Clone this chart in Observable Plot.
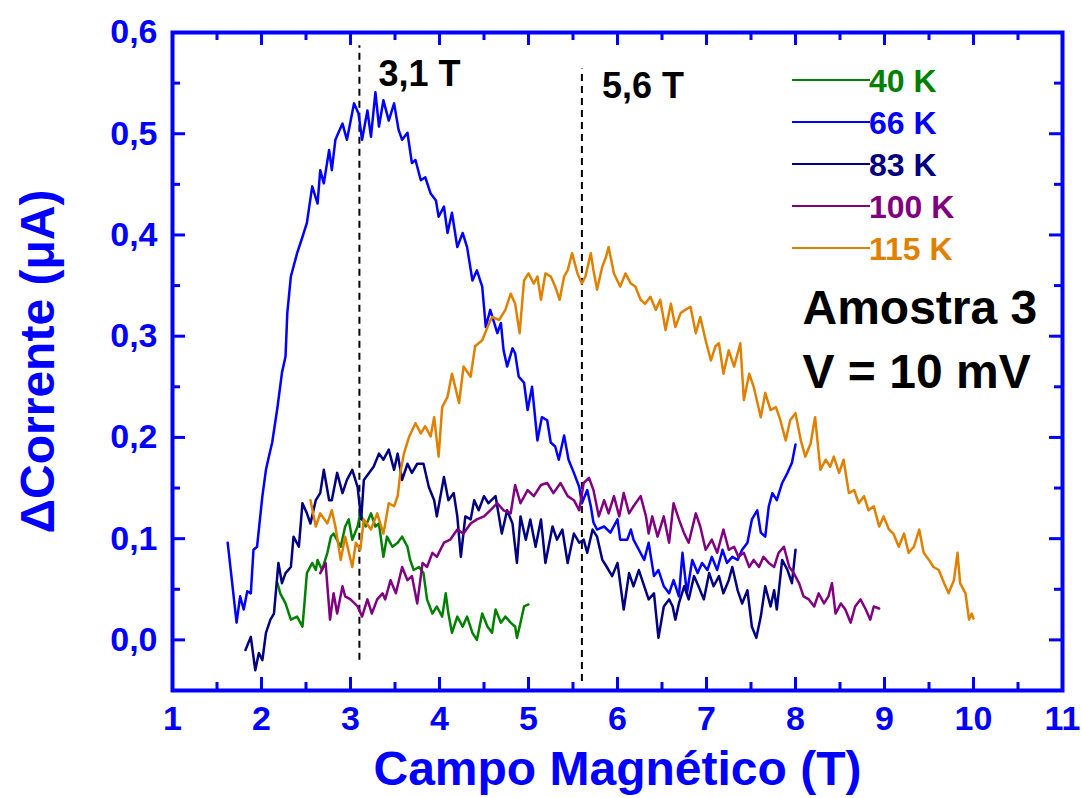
<!DOCTYPE html>
<html><head><meta charset="utf-8">
<script src="https://cdn.jsdelivr.net/npm/d3@7"></script>
<script src="https://cdn.jsdelivr.net/npm/@observablehq/plot@0.6"></script>
<style>body{margin:0;background:#fff}#chart svg{display:block}</style>
</head><body><div id="chart"></div>
<script>
// ---- data (Campo Magnético [T], ΔCorrente [µA]) ----
const s40 = [[2.18,0.056],[2.21,0.046],[2.27,0.036],[2.33,0.020],[2.40,0.023],[2.46,0.013],[2.48,0.033],[2.51,0.066],[2.57,0.076],[2.61,0.069],[2.63,0.079],[2.68,0.069],[2.74,0.086],[2.78,0.102],[2.81,0.105],[2.89,0.092],[2.94,0.112],[2.98,0.119],[3.02,0.099],[3.08,0.112],[3.11,0.125],[3.17,0.112],[3.23,0.125],[3.28,0.112],[3.32,0.115],[3.37,0.082],[3.41,0.102],[3.47,0.092],[3.53,0.096],[3.58,0.102],[3.64,0.092],[3.67,0.079],[3.71,0.069],[3.77,0.072],[3.82,0.066],[3.86,0.040],[3.92,0.026],[3.97,0.033],[4.03,0.023],[4.07,0.046],[4.10,0.026],[4.14,0.007],[4.20,0.023],[4.26,0.013],[4.31,0.023],[4.37,0.007],[4.42,0.000],[4.48,0.026],[4.54,0.013],[4.59,0.007],[4.63,0.030],[4.69,0.017],[4.74,0.023],[4.80,0.017],[4.85,0.013],[4.87,0.002],[4.91,0.017],[4.95,0.033],[5.00,0.035]];
const s66 = [[1.62,0.096],[1.72,0.017],[1.76,0.043],[1.80,0.030],[1.84,0.048],[1.88,0.046],[1.91,0.089],[1.95,0.092],[2.01,0.142],[2.05,0.168],[2.08,0.180],[2.12,0.195],[2.18,0.230],[2.23,0.264],[2.27,0.280],[2.29,0.323],[2.33,0.359],[2.40,0.382],[2.46,0.398],[2.51,0.412],[2.57,0.448],[2.63,0.431],[2.66,0.464],[2.70,0.451],[2.76,0.484],[2.79,0.464],[2.83,0.494],[2.91,0.510],[2.96,0.494],[3.04,0.530],[3.09,0.520],[3.13,0.494],[3.19,0.523],[3.23,0.497],[3.28,0.541],[3.32,0.507],[3.37,0.533],[3.43,0.513],[3.49,0.530],[3.54,0.504],[3.58,0.494],[3.64,0.501],[3.69,0.471],[3.73,0.474],[3.79,0.454],[3.84,0.457],[3.90,0.441],[3.96,0.434],[3.99,0.418],[4.05,0.428],[4.09,0.402],[4.14,0.422],[4.20,0.388],[4.26,0.402],[4.31,0.388],[4.37,0.355],[4.42,0.365],[4.48,0.349],[4.52,0.309],[4.57,0.326],[4.65,0.303],[4.69,0.313],[4.72,0.286],[4.76,0.270],[4.82,0.288],[4.85,0.283],[4.89,0.260],[4.95,0.254],[4.99,0.227],[5.04,0.250],[5.10,0.197],[5.15,0.220],[5.21,0.217],[5.25,0.195],[5.30,0.191],[5.34,0.178],[5.40,0.202],[5.45,0.178],[5.51,0.165],[5.57,0.151],[5.60,0.135],[5.66,0.148],[5.70,0.132],[5.73,0.116],[5.77,0.109],[5.85,0.112],[5.92,0.106],[6.00,0.119],[6.03,0.099],[6.11,0.099],[6.15,0.109],[6.18,0.099],[6.24,0.089],[6.30,0.079],[6.35,0.096],[6.41,0.063],[6.46,0.069],[6.52,0.053],[6.58,0.046],[6.63,0.059],[6.69,0.043],[6.73,0.086],[6.78,0.046],[6.84,0.079],[6.90,0.066],[6.95,0.076],[7.01,0.069],[7.06,0.082],[7.12,0.069],[7.18,0.089],[7.23,0.076],[7.29,0.082],[7.35,0.079],[7.40,0.089],[7.46,0.096],[7.51,0.119],[7.57,0.128],[7.61,0.106],[7.66,0.102],[7.70,0.132],[7.74,0.145],[7.79,0.138],[7.85,0.155],[7.91,0.165],[7.96,0.175],[8.00,0.193]];
const s83 = [[1.82,-0.010],[1.88,0.003],[1.93,-0.030],[1.97,-0.013],[2.01,-0.020],[2.05,0.007],[2.10,0.020],[2.14,0.026],[2.19,0.076],[2.23,0.056],[2.27,0.066],[2.33,0.072],[2.36,0.102],[2.42,0.092],[2.46,0.135],[2.51,0.125],[2.55,0.115],[2.61,0.138],[2.66,0.145],[2.70,0.168],[2.76,0.138],[2.79,0.138],[2.85,0.165],[2.91,0.145],[2.96,0.158],[3.02,0.168],[3.08,0.151],[3.12,0.119],[3.15,0.158],[3.21,0.165],[3.26,0.171],[3.32,0.184],[3.37,0.178],[3.43,0.188],[3.49,0.168],[3.53,0.184],[3.58,0.158],[3.64,0.174],[3.69,0.165],[3.75,0.174],[3.82,0.174],[3.88,0.151],[3.94,0.138],[3.97,0.122],[4.05,0.161],[4.10,0.138],[4.16,0.145],[4.20,0.122],[4.24,0.082],[4.29,0.122],[4.35,0.119],[4.39,0.138],[4.44,0.128],[4.50,0.142],[4.55,0.135],[4.63,0.142],[4.70,0.105],[4.76,0.128],[4.82,0.115],[4.87,0.076],[4.91,0.122],[4.97,0.099],[5.02,0.119],[5.08,0.092],[5.14,0.119],[5.19,0.076],[5.27,0.112],[5.32,0.099],[5.38,0.109],[5.44,0.076],[5.51,0.105],[5.57,0.096],[5.62,0.099],[5.66,0.086],[5.72,0.109],[5.77,0.102],[5.83,0.079],[5.88,0.072],[5.94,0.063],[6.00,0.076],[6.07,0.030],[6.13,0.066],[6.18,0.053],[6.24,0.069],[6.30,0.053],[6.35,0.040],[6.41,0.046],[6.46,0.002],[6.52,0.033],[6.58,0.040],[6.62,0.033],[6.65,0.020],[6.69,0.036],[6.75,0.053],[6.80,0.040],[6.86,0.063],[6.91,0.053],[6.97,0.040],[7.03,0.066],[7.08,0.053],[7.14,0.063],[7.19,0.046],[7.25,0.059],[7.29,0.072],[7.35,0.049],[7.40,0.036],[7.46,0.049],[7.51,0.013],[7.56,0.002],[7.61,0.023],[7.66,0.053],[7.72,0.033],[7.76,0.049],[7.79,0.030],[7.85,0.079],[7.91,0.069],[7.96,0.056],[8.00,0.089]];
const s100 = [[2.66,0.066],[2.72,0.076],[2.77,0.020],[2.81,0.046],[2.85,0.026],[2.91,0.053],[2.94,0.043],[3.00,0.040],[3.08,0.033],[3.13,0.023],[3.19,0.040],[3.24,0.026],[3.30,0.040],[3.36,0.046],[3.39,0.040],[3.45,0.059],[3.51,0.046],[3.58,0.072],[3.64,0.059],[3.69,0.063],[3.75,0.036],[3.81,0.076],[3.86,0.072],[3.92,0.086],[3.97,0.082],[4.05,0.096],[4.12,0.099],[4.20,0.109],[4.27,0.105],[4.35,0.115],[4.42,0.119],[4.50,0.122],[4.57,0.128],[4.65,0.135],[4.72,0.128],[4.80,0.125],[4.85,0.153],[4.91,0.135],[4.99,0.148],[5.06,0.142],[5.14,0.153],[5.21,0.155],[5.28,0.145],[5.36,0.155],[5.44,0.142],[5.51,0.138],[5.57,0.128],[5.62,0.155],[5.68,0.160],[5.73,0.148],[5.79,0.122],[5.85,0.138],[5.90,0.125],[5.96,0.142],[6.02,0.122],[6.07,0.145],[6.13,0.125],[6.18,0.132],[6.26,0.142],[6.32,0.122],[6.35,0.105],[6.39,0.122],[6.45,0.102],[6.52,0.122],[6.58,0.096],[6.63,0.135],[6.69,0.119],[6.75,0.105],[6.80,0.096],[6.88,0.125],[6.93,0.112],[6.99,0.089],[7.06,0.099],[7.12,0.086],[7.19,0.109],[7.25,0.089],[7.31,0.092],[7.36,0.082],[7.42,0.086],[7.48,0.072],[7.53,0.079],[7.59,0.072],[7.64,0.082],[7.70,0.076],[7.76,0.072],[7.81,0.086],[7.87,0.092],[7.93,0.072],[7.98,0.066],[8.04,0.056],[8.09,0.043],[8.15,0.040],[8.21,0.033],[8.26,0.046],[8.32,0.036],[8.37,0.043],[8.41,0.056],[8.45,0.026],[8.51,0.036],[8.56,0.030],[8.62,0.017],[8.67,0.033],[8.73,0.040],[8.79,0.030],[8.84,0.020],[8.88,0.033],[8.94,0.031]];
const s115 = [[2.55,0.138],[2.61,0.112],[2.66,0.125],[2.74,0.115],[2.79,0.128],[2.83,0.112],[2.89,0.079],[2.94,0.102],[3.02,0.072],[3.06,0.096],[3.11,0.089],[3.15,0.119],[3.23,0.109],[3.30,0.125],[3.37,0.105],[3.43,0.135],[3.49,0.132],[3.53,0.142],[3.56,0.165],[3.60,0.184],[3.66,0.201],[3.73,0.214],[3.79,0.204],[3.84,0.211],[3.90,0.201],[3.94,0.220],[3.99,0.181],[4.03,0.230],[4.09,0.240],[4.14,0.263],[4.22,0.234],[4.27,0.270],[4.35,0.260],[4.40,0.290],[4.48,0.296],[4.54,0.309],[4.59,0.319],[4.67,0.316],[4.74,0.326],[4.80,0.342],[4.85,0.332],[4.90,0.303],[4.95,0.355],[5.00,0.362],[5.06,0.352],[5.10,0.359],[5.14,0.336],[5.19,0.362],[5.25,0.359],[5.30,0.349],[5.35,0.336],[5.40,0.359],[5.44,0.365],[5.49,0.382],[5.55,0.362],[5.60,0.352],[5.64,0.359],[5.70,0.382],[5.73,0.365],[5.77,0.346],[5.83,0.369],[5.87,0.378],[5.90,0.388],[5.96,0.362],[6.03,0.349],[6.09,0.362],[6.15,0.352],[6.20,0.349],[6.26,0.336],[6.31,0.332],[6.37,0.339],[6.43,0.326],[6.48,0.336],[6.54,0.306],[6.60,0.332],[6.65,0.309],[6.71,0.323],[6.76,0.326],[6.82,0.329],[6.88,0.303],[6.93,0.319],[6.99,0.296],[7.05,0.276],[7.10,0.290],[7.14,0.293],[7.19,0.263],[7.25,0.286],[7.31,0.270],[7.38,0.293],[7.42,0.237],[7.48,0.263],[7.53,0.250],[7.61,0.220],[7.66,0.244],[7.72,0.227],[7.78,0.230],[7.83,0.217],[7.89,0.197],[7.94,0.217],[8.00,0.224],[8.06,0.197],[8.11,0.181],[8.17,0.194],[8.22,0.220],[8.28,0.168],[8.34,0.178],[8.39,0.171],[8.43,0.181],[8.49,0.165],[8.54,0.178],[8.60,0.145],[8.66,0.148],[8.71,0.135],[8.77,0.142],[8.82,0.128],[8.88,0.132],[8.94,0.112],[8.99,0.122],[9.05,0.109],[9.10,0.105],[9.16,0.092],[9.22,0.105],[9.27,0.086],[9.33,0.092],[9.39,0.109],[9.44,0.086],[9.50,0.079],[9.55,0.072],[9.61,0.069],[9.67,0.056],[9.72,0.046],[9.78,0.059],[9.82,0.086],[9.85,0.056],[9.91,0.046],[9.95,0.020],[9.98,0.026],[10.00,0.021]];

const seriesNames = ["40 K", "66 K", "83 K", "100 K", "115 K"];
const seriesColors = ["#008000", "#0000ff", "#000080", "#800080", "#e08000"];
const seriesPoints = [s40, s66, s83, s100, s115];

const xMajor = [1, 2, 3, 4, 5, 6, 7, 8, 9, 10, 11];
const xMinor = [1.5, 2.5, 3.5, 4.5, 5.5, 6.5, 7.5, 8.5, 9.5, 10.5];
const yMajor = [0, 0.1, 0.2, 0.3, 0.4, 0.5, 0.6];
const yMinor = [0.05, 0.15, 0.25, 0.35, 0.45, 0.55];

const markerFields = [3.1, 5.6];
const markerLabels = ["3,1 T", "5,6 T"];
const markerTop = [0.587, 0.564];
const markerBottom = [-0.02, -0.041];

const xTitle = "Campo Magnético (T)";
const yTitle = "ΔCorrente (μA)";
const sampleText = "Amostra 3\nV = 10 mV";

// ---- build ----
const rows = seriesPoints.flatMap((pts, i) => pts.map(([f, c]) => ({field: f, current: c, temp: seriesNames[i]})));
const BLUE = "#0000ff";
const FONT = "Liberation Sans, Arial, Helvetica, sans-serif";
const W = 1082, H = 798, mT = 32, mR = 20, mB = 108, mL = 172;
const fw = W - mL - mR, fh = H - mT - mB;
const major = 13, minor = 8;
const tickStyle = {stroke: BLUE, strokeWidth: 3};
const txt = {fontFamily: FONT, fontWeight: "bold"};

const chart = Plot.plot({
  width: W, height: H,
  marginTop: mT, marginRight: mR, marginBottom: mB, marginLeft: mL,
  style: {background: "#fff", fontFamily: FONT},
  x: {domain: [1, 11], axis: null},
  y: {domain: [-0.05, 0.6], axis: null},
  color: {domain: seriesNames, range: seriesColors},
  marks: [
    Plot.ruleX(markerFields, {x: d => d, y1: (d, i) => markerBottom[i], y2: (d, i) => markerTop[i], stroke: "#000", strokeWidth: 2, strokeDasharray: "7,5"}),
    Plot.line(rows, {x: "field", y: "current", z: "temp", stroke: "temp", strokeWidth: 2.5, strokeLinejoin: "round"}),
    // inward ticks, four sides
    Plot.tickX(xMajor, {x: d => d, insetTop: fh - major, ...tickStyle}),
    Plot.tickX(xMinor, {x: d => d, insetTop: fh - minor, ...tickStyle}),
    Plot.tickX(xMajor, {x: d => d, insetBottom: fh - major, ...tickStyle}),
    Plot.tickX(xMinor, {x: d => d, insetBottom: fh - minor, ...tickStyle}),
    Plot.tickY(yMajor, {y: d => d, insetRight: fw - major, ...tickStyle}),
    Plot.tickY(yMinor, {y: d => d, insetRight: fw - minor, ...tickStyle}),
    Plot.tickY(yMajor, {y: d => d, insetLeft: fw - major, ...tickStyle}),
    Plot.tickY(yMinor, {y: d => d, insetLeft: fw - minor, ...tickStyle}),
    Plot.frame({stroke: BLUE, strokeWidth: 4}),
    // tick labels
    Plot.text(xMajor, {x: d => d, frameAnchor: "bottom", dy: 39, textAnchor: "middle", text: d => String(d), fill: BLUE, fontSize: 34, ...txt}),
    Plot.text(yMajor, {y: d => d, frameAnchor: "left", dx: -15, textAnchor: "end", text: d => d.toFixed(1).replace(".", ","), fill: BLUE, fontSize: 34, ...txt}),
    // axis titles
    Plot.text([xTitle], {frameAnchor: "bottom", dy: 94, textAnchor: "middle", text: d => d, fill: BLUE, fontSize: 48, ...txt}),
    Plot.text([yTitle], {frameAnchor: "left", dx: -134, rotate: -90, textAnchor: "middle", text: d => d, fill: BLUE, fontSize: 48, ...txt}),
    // annotations
    Plot.text([markerFields[0]], {x: d => d, frameAnchor: "top", dx: 19, dy: 53, lineAnchor: "bottom", textAnchor: "start", text: () => markerLabels[0], fill: "#000", fontSize: 36, ...txt}),
    Plot.text([markerFields[1]], {x: d => d, frameAnchor: "top", dx: 20, dy: 65, lineAnchor: "bottom", textAnchor: "start", text: () => markerLabels[1], fill: "#000", fontSize: 36, ...txt}),
    Plot.text([sampleText], {frameAnchor: "top-left", dx: 630, dy: 355, lineAnchor: "bottom", textAnchor: "start", lineHeight: 1.33, text: d => d, fill: "#000", fontSize: 48, ...txt})
  ]
});
document.getElementById("chart").appendChild(chart);

// legend inside the frame (top right)
const svg = d3.select(chart);
const lg = svg.append("g").attr("font-family", FONT).attr("font-weight", "bold").attr("font-size", 32).attr("text-anchor", "start");
const lx1 = W - mR - 270, lx2 = W - mR - 192, ly0 = mT + 48, lstep = 42;
seriesNames.forEach((name, i) => {
  const yy = ly0 + i * lstep;
  lg.append("line").attr("x1", lx1).attr("x2", lx2).attr("y1", yy).attr("y2", yy)
    .attr("stroke", seriesColors[i]).attr("stroke-width", 2);
  lg.append("text").attr("x", lx2 - 1).attr("y", yy + 11.5).attr("fill", seriesColors[i]).attr("text-anchor", "start").text(name);
});
</script>
</body></html>
